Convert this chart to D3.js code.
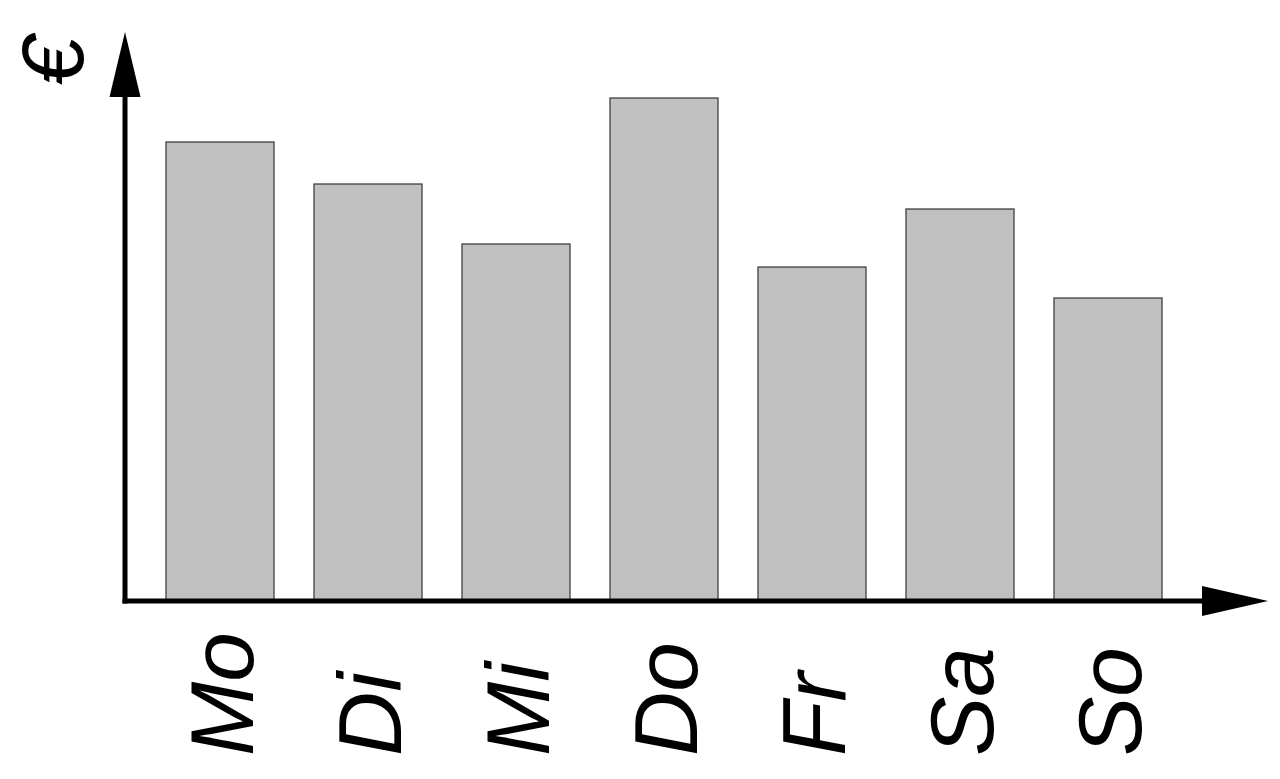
<!DOCTYPE html>
<html>
<head>
<meta charset="utf-8">
<script src="https://cdn.jsdelivr.net/npm/d3@7"></script>
<style>
html,body{margin:0;padding:0;background:#fff;}
svg{display:block;}
text{font-family:"Liberation Sans",Arial,sans-serif;font-style:italic;}
</style>
</head>
<body>
<svg id="chart" width="1280" height="779"></svg>
<script>
const categories = ["Mo","Di","Mi","Do","Fr","Sa","So"];
const values = [91.6, 83.2, 71.2, 100.4, 66.6, 78.2, 60.4];
const axisLabel = "€";

const svg = d3.select("#chart");
const x0 = 125, yBase = 601;

const x = d3.scaleBand().domain(categories).range([146, 1182]).paddingInner(0.27).paddingOuter(0.135);
const y = d3.scaleLinear().domain([0, 100]).range([600, 100]);

// bars
svg.append("g").selectAll("rect").data(categories).join("rect")
  .attr("x", d => x(d))
  .attr("y", (d,i) => y(values[i]))
  .attr("width", x.bandwidth())
  .attr("height", (d,i) => y(0) - y(values[i]))
  .attr("fill", "#c0c0c0")
  .attr("stroke", "#333")
  .attr("stroke-width", 1.2);

// axes
const ax = svg.append("g");
ax.append("line").attr("x1", x0).attr("x2", x0).attr("y1", yBase + 2.5).attr("y2", 95)
  .attr("stroke", "#000").attr("stroke-width", 5);
ax.append("line").attr("x1", x0 - 2.5).attr("x2", 1205).attr("y1", yBase).attr("y2", yBase)
  .attr("stroke", "#000").attr("stroke-width", 5);
ax.append("path").attr("d", `M${x0},32 L${x0-15.5},97 L${x0+15.5},97 Z`).attr("fill", "#000");
ax.append("path").attr("d", `M1268,${yBase} L1202,${yBase-15} L1202,${yBase+15} Z`).attr("fill", "#000");

// category labels (read bottom-to-top, aligned at the bottom)
svg.append("g").selectAll("text").data(categories).join("text")
  .attr("transform", d => `translate(${x(d) + x.bandwidth()/2},756) rotate(-90)`)
  .attr("text-anchor", "start")
  .attr("dy", "0.37em")
  .attr("font-size", 89)
  .attr("fill", "#000")
  .text(d => d);

// euro label
svg.append("text")
  .attr("transform", `translate(50,61) rotate(-90)`)
  .attr("text-anchor", "middle")
  .attr("dy", "0.37em")
  .attr("font-size", 88)
  .attr("fill", "#000")
  .text(axisLabel);
</script>
</body>
</html>
